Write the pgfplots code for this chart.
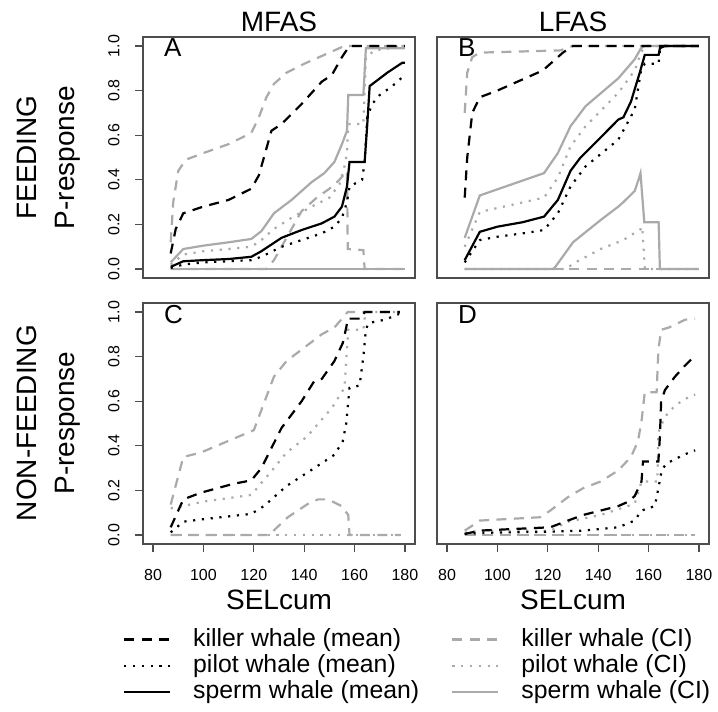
\documentclass[border=0pt]{standalone}
\usepackage{fontspec}
\setmainfont{Liberation Sans}
\usepackage{pgfplots}
\pgfplotsset{compat=1.18}
\definecolor{cig}{HTML}{AAAAAA}
\definecolor{frame}{HTML}{4D4D4D}

\pgfplotsset{
  panel/.style={
    scale only axis, width=136pt, height=120.5pt,
    xmin=76, xmax=184, ymin=-0.04, ymax=1.04,
    axis line style={frame, line width=0.7pt},
    tick style={frame, line width=0.6pt},
    tick align=outside, major tick length=4pt,
    xtick=\empty, ytick=\empty,
    /pgf/number format/assume math mode=true,
    ticklabel style={font=\fontsize{8}{9}\selectfont, inner sep=0pt},
  },
  xticks/.style={xtick={80,100,120,140,160,180}, xtick pos=bottom,
    xticklabel style={anchor=north}, xticklabel shift=8.5pt},
  yticks/.style={ytick={0,0.2,0.4,0.6,0.8,1}, ytick pos=left,
    yticklabel style={rotate=90, anchor=south,
      /pgf/number format/.cd, fixed, fixed zerofill, precision=1},
    yticklabel shift=7.5pt},
  kmean/.style={black, line width=1.1pt, dash pattern=on 5pt off 3.7pt},
  pmean/.style={black, line width=1.1pt, dash pattern=on 1.1pt off 3.3pt},
  smean/.style={black, line width=1.1pt},
  kci/.style={cig, line width=1.1pt, dash pattern=on 5pt off 3.7pt},
  pci/.style={cig, line width=1.1pt, dash pattern=on 1.1pt off 3.3pt},
  sci/.style={cig, line width=1.1pt},
}
\newcommand{\bigfont}{\fontsize{14}{16}\selectfont}
\newcommand{\letter}[1]{\node[anchor=base west, font=\fontsize{13}{15}\selectfont,
  xshift=7pt, yshift=-10pt] at (rel axis cs:0,1) {#1};}

\begin{document}
\begin{tikzpicture}
\path[use as bounding box] (0,0) rectangle (359pt,-356pt);

% ---- A: feeding, MFAS
\begin{axis}[panel, yticks, at={(71.5pt,-18.5pt)}, anchor=north west]
\addplot[sci] coordinates {(87,0) (180,0)};
\addplot[pci] coordinates {(87,0) (180,0)};
\addplot[kci] coordinates {(87,0) (125,0) (128,0.04) (133,0.14) (139,0.26) (145,0.32) (150,0.36) (154,0.40) (157,0.44) (157.3,0.09) (163.5,0.085) (164,0) (180,0)};
\addplot[kci] coordinates {(87,0.12) (88,0.30) (90,0.44) (93,0.49) (100,0.52) (110,0.56) (119,0.61) (122,0.68) (125,0.77) (128,0.83) (133,0.88) (140,0.92) (146,0.95) (152,0.98) (156,1.0) (180,1.0)};
\addplot[pci] coordinates {(87,0.02) (92,0.065) (100,0.08) (110,0.09) (119,0.10) (123,0.13) (128,0.18) (135,0.23) (143,0.28) (150,0.32) (154,0.38) (156,0.46) (157,0.52) (157.5,0.65) (163.5,0.65) (164.5,0.95) (168,0.98) (180,1.0)};
\addplot[sci] coordinates {(87,0.03) (92,0.09) (100,0.105) (110,0.12) (119,0.135) (123,0.17) (128,0.25) (135,0.31) (143,0.39) (148,0.43) (152,0.48) (155,0.56) (157,0.62) (157.5,0.78) (163.5,0.78) (164.5,0.99) (180,0.99)};
\addplot[pmean] coordinates {(87,0.005) (92,0.02) (100,0.03) (110,0.035) (119,0.04) (123,0.055) (131,0.10) (139,0.13) (147,0.16) (152,0.19) (155,0.23) (157,0.30) (158,0.37) (163,0.40) (164,0.48) (165,0.68) (167,0.74) (170,0.78) (175,0.82) (179,0.86)};
\addplot[smean] coordinates {(87,0.01) (92,0.035) (100,0.04) (110,0.045) (119,0.055) (123,0.08) (131,0.14) (139,0.175) (147,0.205) (152,0.235) (155,0.28) (157,0.37) (158,0.48) (164,0.48) (165,0.64) (166,0.82) (173,0.88) (179,0.925) (180,0.925)};
\addplot[kmean] coordinates {(87,0.07) (89,0.18) (92,0.25) (100,0.28) (110,0.31) (119,0.36) (122,0.42) (124,0.50) (127,0.62) (131,0.65) (139,0.74) (147,0.84) (151,0.87) (155,0.95) (158,1.0) (180,1.0)};
\letter{A}
\end{axis}

% ---- B: feeding, LFAS
\begin{axis}[panel, at={(218.5pt,-18.5pt)}, anchor=north west]
\addplot[kci] coordinates {(87,0) (180,0)};
\addplot[pci] coordinates {(87,0) (127,0) (131,0.03) (141,0.09) (150,0.13) (157,0.18) (157.5,0.19) (158.5,0) (180,0)};
\addplot[sci] coordinates {(87,0) (122,0) (123,0.01) (130,0.12) (141,0.22) (148,0.28) (150,0.30) (154.5,0.35) (156,0.40) (156.8,0.43) (158.3,0.21) (164,0.21) (164.5,0) (180,0)};
\addplot[kci] coordinates {(87,0.70) (88,0.88) (90,0.95) (93,0.97) (125,0.98) (130,1.0) (180,1.0)};
\addplot[pci] coordinates {(87,0.10) (93,0.256) (118.5,0.32) (124,0.41) (129,0.55) (135,0.64) (148,0.79) (154.5,0.89) (157,0.97) (158.5,1.0) (180,1.0)};
\addplot[sci] coordinates {(87,0.14) (93,0.33) (118.5,0.43) (124,0.52) (129,0.64) (135,0.73) (148,0.855) (154.5,0.94) (157,0.99) (158.5,1.0) (180,1.0)};
\addplot[pmean] coordinates {(87,0.03) (93,0.13) (100,0.145) (110,0.16) (118.5,0.175) (124,0.25) (129,0.37) (135,0.46) (148,0.58) (154.5,0.715) (157,0.89) (158.5,0.92) (164,0.92) (164.5,0.98) (166.5,1.0) (180,1.0)};
\addplot[smean] coordinates {(87,0.04) (93,0.167) (100,0.19) (110,0.21) (118.5,0.235) (124,0.31) (129,0.44) (133,0.50) (141,0.59) (148,0.67) (150,0.68) (153,0.75) (156.5,0.88) (158.5,0.96) (164,0.96) (164.5,0.99) (166.5,1.0) (180,1.0)};
\addplot[kmean] coordinates {(87,0.32) (88,0.50) (90,0.70) (93,0.77) (100,0.80) (110,0.85) (118,0.89) (122,0.93) (126,0.97) (130,1.0) (180,1.0)};
\letter{B}
\end{axis}

% ---- C: non-feeding, MFAS
\begin{axis}[panel, xticks, yticks, at={(71.5pt,-151.5pt)}, anchor=north west,
  legend columns=2,
  legend image code/.code={\draw[#1] (0pt,0pt) -- (23pt,0pt);},
  legend style={at={(-0.0735,-0.344)}, anchor=north west, draw=none, fill=none,
    inner sep=0pt, outer sep=0pt, font=\fontsize{12.4}{14}\selectfont,
    nodes={inner sep=0pt, text height=9.6pt, text depth=3pt},
    row sep=0.6pt,
    /tikz/every odd column/.append style={column sep=11pt},
    /tikz/every even column/.append style={column sep=16pt}},
  legend cell align=left]
\addplot[pci, forget plot] coordinates {(87,0) (178,0)};
\addplot[kci, forget plot] coordinates {(87,0) (126,0) (133.5,0.08) (141.5,0.14) (145.5,0.16) (149.5,0.16) (154.8,0.13) (157.5,0.09) (158,0) (178,0)};
\addplot[kci, forget plot] coordinates {(87,0.137) (92,0.35) (99,0.37) (120,0.47) (128,0.71) (133,0.78) (147,0.90) (152,0.93) (157.3,1.0) (178,1.0)};
\addplot[pci, forget plot] coordinates {(87,0.12) (92,0.13) (100,0.15) (119,0.18) (128,0.30) (133,0.37) (141,0.44) (151,0.57) (156,0.66) (157.5,0.92) (163.5,0.92) (164.3,1.0) (178,1.0)};
\addplot[pmean, forget plot] coordinates {(87,0.012) (92,0.06) (99,0.07) (119,0.095) (124,0.13) (133,0.22) (144,0.30) (152,0.36) (155.3,0.42) (156.7,0.50) (158,0.66) (162,0.67) (163.5,0.80) (164.5,0.92) (165.5,0.95) (172,0.965) (177.5,0.99) (179.5,0.98)};
\addplot[kmean, forget plot] coordinates {(87,0.035) (92,0.16) (99,0.19) (112,0.23) (119,0.245) (123,0.30) (131,0.48) (139,0.60) (144,0.69) (147,0.70) (152,0.78) (155.3,0.86) (156.7,0.93) (157.3,0.97) (163,0.97) (164,1.0) (178,1.0)};
\letter{C}
\addlegendimage{kmean}\addlegendentry{killer whale (mean)}
\addlegendimage{kci}\addlegendentry{killer whale (CI)}
\addlegendimage{pmean}\addlegendentry{pilot whale (mean)}
\addlegendimage{pci}\addlegendentry{pilot whale (CI)}
\addlegendimage{smean}\addlegendentry{sperm whale (mean)}
\addlegendimage{sci}\addlegendentry{sperm whale (CI)}
\end{axis}

% ---- D: non-feeding, LFAS
\begin{axis}[panel, xticks, at={(218.5pt,-151.5pt)}, anchor=north west]
\addplot[kci] coordinates {(87,0) (178.5,0)};
\addplot[pci] coordinates {(87,0) (178.5,0)};
\addplot[kci] coordinates {(87,0.02) (93,0.065) (117,0.08) (121,0.11) (128,0.17) (134,0.21) (141,0.24) (148,0.29) (153,0.35) (155.8,0.42) (157.2,0.51) (158.5,0.64) (163.2,0.64) (163.9,0.83) (165,0.92) (168,0.93) (174.5,0.965) (178.5,0.97)};
\addplot[pci] coordinates {(87,0.01) (93,0.02) (121,0.02) (128,0.06) (141,0.09) (154.5,0.14) (157.2,0.24) (163.5,0.24) (163.9,0.46) (166.5,0.53) (170.5,0.58) (174.5,0.61) (178.5,0.63)};
\addplot[pmean] coordinates {(87,0.005) (93,0.01) (121,0.015) (134,0.02) (148,0.035) (154.5,0.065) (157.2,0.11) (162.5,0.13) (163.9,0.21) (165.2,0.29) (167,0.32) (174,0.36) (178.5,0.38)};
\addplot[kmean] coordinates {(87,0.005) (93,0.02) (121,0.035) (128,0.065) (134,0.09) (141,0.11) (148,0.13) (152,0.15) (154.5,0.175) (157.2,0.24) (157.8,0.33) (163.9,0.33) (164.5,0.44) (165,0.60) (166.5,0.65) (170.5,0.71) (174.5,0.76) (177.2,0.79) (178.5,0.79)};
\letter{D}
\end{axis}

% ---- titles and row labels
\node[anchor=base, font=\bigfont] at (139.5pt,-15.8pt) {MFAS};
\node[anchor=base, font=\bigfont] at (286.5pt,-15.8pt) {LFAS};
\node[anchor=base, font=\bigfont] at (139.5pt,-304.5pt) {SELcum};
\node[anchor=base, font=\bigfont] at (286.5pt,-304.5pt) {SELcum};
\node[rotate=90, anchor=base, font=\bigfont] at (18pt,-78.75pt) {FEEDING};
\node[rotate=90, anchor=base, font=\bigfont] at (37.5pt,-78.75pt) {P-response};
\node[rotate=90, anchor=base, font=\bigfont] at (18pt,-211.5pt) {NON-FEEDING};
\node[rotate=90, anchor=base, font=\bigfont] at (37.5pt,-211.5pt) {P-response};
\end{tikzpicture}
\end{document}
